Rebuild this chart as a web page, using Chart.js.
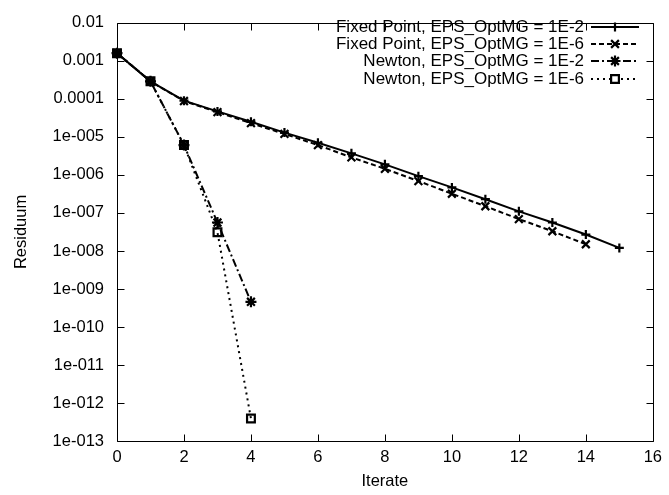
<!DOCTYPE html>
<html><head><meta charset="utf-8">
<script src="https://cdn.jsdelivr.net/npm/chart.js@4"></script>
<style>html,body{margin:0;padding:0;background:#fff;}</style>
</head><body>
<canvas id="c" width="669" height="495"></canvas>
<script>
// ---- data ----
const seriesNames = [
  "Fixed Point, EPS_OptMG = 1E-2",
  "Fixed Point, EPS_OptMG = 1E-6",
  "Newton, EPS_OptMG = 1E-2",
  "Newton, EPS_OptMG = 1E-6"
];
const fpIter1 = [0,1,2,3,4,5,6,7,8,9,10,11,12,13,14,15];
const fpRes1  = [1.6e-3,2.9e-4,9.0e-5,4.7e-5,2.5e-5,1.3e-5,7.0e-6,3.7e-6,1.9e-6,9.3e-7,4.7e-7,2.3e-7,1.1e-7,5.6e-8,2.7e-8,1.2e-8];
const fpIter2 = [0,1,2,3,4,5,6,7,8,9,10,11,12,13,14];
const fpRes2  = [1.6e-3,2.9e-4,8.8e-5,4.5e-5,2.3e-5,1.2e-5,6.1e-6,2.9e-6,1.45e-6,6.9e-7,3.2e-7,1.5e-7,6.9e-8,3.3e-8,1.5e-8];
const nwIter1 = [0,1,2,3,4];
const nwRes1  = [1.6e-3,2.9e-4,6.1e-6,5.6e-8,4.6e-10];
const nwIter2 = [0,1,2,3,4];
const nwRes2  = [1.6e-3,2.9e-4,6.1e-6,3.1e-8,3.9e-13];
const xTickValues = [0,2,4,6,8,10,12,14,16];
const yTickValues = [1e-2,1e-3,1e-4,1e-5,1e-6,1e-7,1e-8,1e-9,1e-10,1e-11,1e-12,1e-13];
const yTickLabels = ["0.01","0.001","0.0001","1e-005","1e-006","1e-007","1e-008","1e-009","1e-010","1e-011","1e-012","1e-013"];
const xTitle = "Iterate";
const yTitle = "Residuum";

const FONT = '"Liberation Sans", Arial, sans-serif';
const pts = (xs, ys) => xs.map((x, i) => ({x: x, y: ys[i]}));

const styles = [
  {dash: [], pointStyle: 'cross', radius: 4.5, pbg: 'transparent'},
  {dash: [5,3], pointStyle: 'crossRot', radius: 5.5, pbg: 'transparent'},
  {dash: [8,3,2,3], pointStyle: 'star', radius: 5.5, pbg: 'transparent'},
  {dash: [2,4], pointStyle: 'rect', radius: 5.5, pbg: 'transparent'}
];
const dataSets = [pts(fpIter1, fpRes1), pts(fpIter2, fpRes2), pts(nwIter1, nwRes1), pts(nwIter2, nwRes2)];

const datasets = dataSets.map((d, i) => ({
  label: seriesNames[i],
  data: d,
  borderColor: '#000',
  backgroundColor: '#000',
  borderWidth: 2,
  borderDash: styles[i].dash,
  pointStyle: styles[i].pointStyle,
  pointRadius: styles[i].radius,
  pointBorderWidth: 2.2,
  pointBorderColor: '#000',
  pointBackgroundColor: styles[i].pbg,
  fill: false,
  tension: 0,
  clip: false
}));

const framePlugin = {
  id: 'frame',
  beforeDatasetsDraw(chart) {
    const {ctx, chartArea: a, scales} = chart;
    ctx.save();
    ctx.strokeStyle = '#000';
    ctx.lineWidth = 1;
    const L = Math.round(a.left) + 0.5, R = Math.round(a.right) + 0.5;
    const T = Math.round(a.top) + 0.5, B = Math.round(a.bottom) + 0.5;
    ctx.beginPath();
    ctx.rect(L, T, R - L, B - T);
    const tl = 7;
    xTickValues.forEach(v => {
      const px = Math.round(scales.x.getPixelForValue(v)) + 0.5;
      ctx.moveTo(px, B); ctx.lineTo(px, B - tl);
      ctx.moveTo(px, T); ctx.lineTo(px, T + tl);
    });
    yTickValues.forEach(v => {
      const py = Math.round(scales.y.getPixelForValue(v)) + 0.5;
      ctx.moveTo(L, py); ctx.lineTo(L + tl, py);
      ctx.moveTo(R, py); ctx.lineTo(R - tl, py);
    });
    ctx.stroke();
    ctx.restore();
  },
  afterDatasetsDraw(chart) {
    const {ctx} = chart;
    ctx.save();
    ctx.font = '17px ' + FONT;
    ctx.fillStyle = '#000';
    ctx.textAlign = 'right';
    ctx.textBaseline = 'middle';
    const textRight = 584, x1 = 591, x2 = 639, y0 = 27, dy = 17.2;
    chart.data.datasets.forEach((ds, i) => {
      const y = Math.round(y0 + i * dy);
      ctx.fillText(ds.label, textRight, y);
      ctx.save();
      ctx.strokeStyle = '#000';
      ctx.lineWidth = ds.borderWidth;
      ctx.setLineDash(ds.borderDash);
      ctx.beginPath();
      ctx.moveTo(x1, y); ctx.lineTo(x2, y);
      ctx.stroke();
      ctx.setLineDash([]);
      ctx.lineWidth = ds.pointBorderWidth;
      ctx.fillStyle = '#fff';
      Chart.helpers.drawPoint(ctx, {pointStyle: ds.pointStyle, radius: ds.pointRadius, borderWidth: ds.pointBorderWidth, rotation: 0}, (x1 + x2) / 2, y);
      ctx.restore();
    });
    ctx.restore();
  }
};

new Chart(document.getElementById('c'), {
  type: 'line',
  data: {datasets: datasets},
  options: {
    responsive: false,
    animation: false,
    devicePixelRatio: 1,
    layout: {padding: {left: 0, right: 11, top: 12, bottom: 0}},
    plugins: {legend: {display: false}, tooltip: {enabled: false}},
    scales: {
      x: {
        type: 'linear', min: 0, max: 16,
        grid: {display: false, drawTicks: false},
        border: {display: false},
        afterBuildTicks: s => { s.ticks = xTickValues.map(v => ({value: v})); },
        afterFit: s => { s.height = 54; },
        ticks: {color: '#000', font: {family: FONT, size: 16.5}, padding: 7, maxRotation: 0, autoSkip: false},
        title: {display: true, text: xTitle, color: '#000', font: {family: FONT, size: 16.5}, padding: {top: 0, bottom: 4}}
      },
      y: {
        type: 'logarithmic', min: 1e-13, max: 1e-2,
        grid: {display: false, drawTicks: false},
        border: {display: false},
        afterBuildTicks: s => { s.ticks = yTickValues.map(v => ({value: v})); },
        afterFit: s => { s.width = 117; },
        ticks: {color: '#000', font: {family: FONT, size: 16.5}, padding: 13, autoSkip: false,
          callback: (v) => { const i = yTickValues.findIndex(t => Math.abs(Math.log10(t) - Math.log10(v)) < 1e-6); return i >= 0 ? yTickLabels[i] : ''; }},
        title: {display: true, text: yTitle, color: '#000', font: {family: FONT, size: 16.5}, padding: {top: 12, bottom: 0}}
      }
    }
  },
  plugins: [framePlugin]
});
</script>
</body></html>
